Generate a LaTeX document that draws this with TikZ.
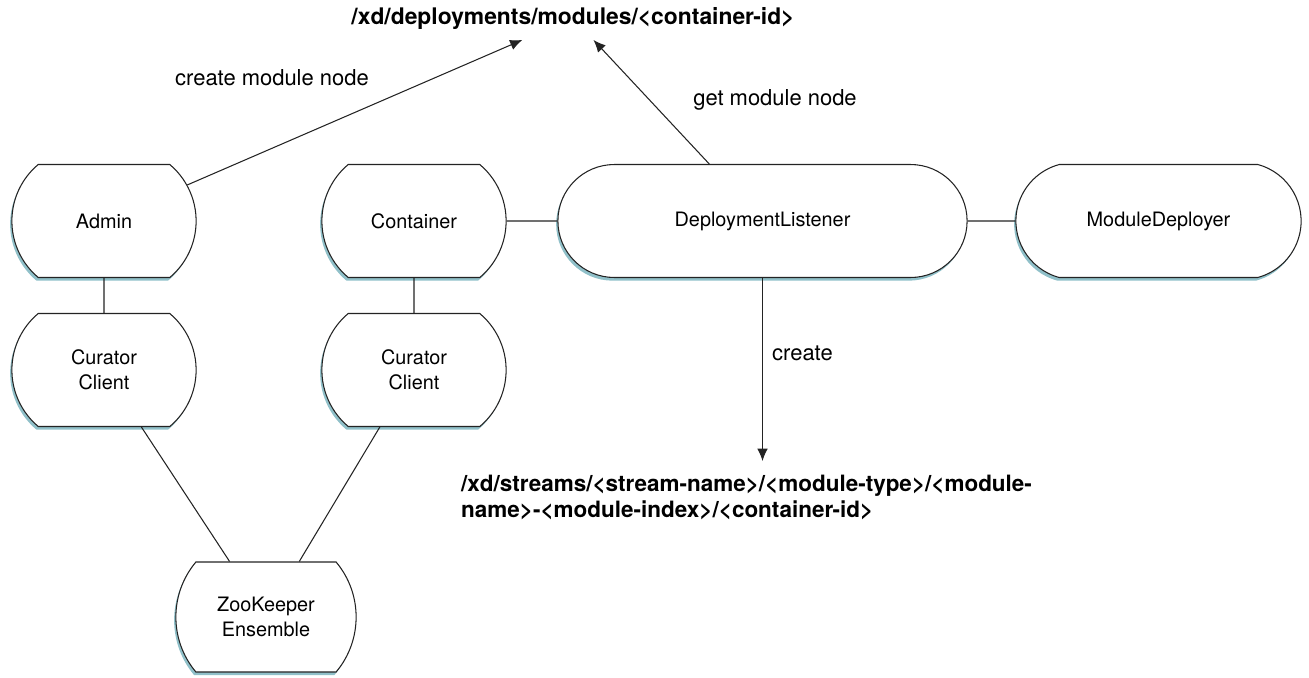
\documentclass[tikz,border=0pt]{standalone}
\usepackage{fontspec}
\setmainfont{TeX Gyre Heros}
\usepackage{tikz}
\usetikzlibrary{shapes.misc, shadows, arrows.meta, calc, positioning}

\begin{document}
\begin{tikzpicture}[x=0.02cm, y=-0.02cm,
    box/.style={rounded rectangle, rounded rectangle arc length=100,
        draw=lineGray, line width=0.6pt, fill=white,
        minimum width=3.92cm, minimum height=2.26cm, align=center,
        font=\fontsize{11.3}{14}\selectfont,
        drop shadow={shadow xshift=-1pt, shadow yshift=-1.8pt, fill=shadowTeal, opacity=0.6}},
    link/.style={draw=lineGray, line width=0.6pt},
    tip/.style={-{Latex[length=7pt,width=6pt]}},
    lbl/.style={font=\fontsize{12.5}{15}\selectfont},
    pathtext/.style={font=\bfseries\fontsize{13}{14.8}\selectfont, inner ysep=6pt}]
        % 定义颜色
        \definecolor{lineGray}{RGB}{35,35,35}     % 线条
        \definecolor{shadowTeal}{RGB}{70,150,165} % 阴影
    
        % 画布大小
        \useasboundingbox (0,0) rectangle (1309,677);
    
        % 左侧节点
        \node[box] (admin) at (104,221) {Admin};
        \node[box] (cc1) at (104,370) {Curator\\Client};
        \node[box] (container) at (414,221) {Container};
        \node[box] (cc2) at (414,370) {Curator\\Client};
        \node[box, rounded rectangle arc length=80, minimum width=3.84cm, minimum height=2.2cm] (zk) at (266,617) {ZooKeeper\\Ensemble};
    
        % 右侧节点
        \node[box, rounded rectangle arc length=180, minimum width=8.42cm] (listener) at (762.5,221) {DeploymentListener};
        \node[box, rounded rectangle arc length=150, minimum width=5.94cm] (deployer) at (1158.5,221) {ModuleDeployer};
    
        % 路径文字
        \node[pathtext] (modpath) at (573,18) {/xd/deployments/modules/<container-id>};
        \node[pathtext, anchor=north west, align=left, inner ysep=8pt,
            font=\bfseries\fontsize{12.8}{14.8}\selectfont] (streampath) at (455,461)
            {/xd/streams/<stream-name>/<module-type>/<module-\\name>-<module-index>/<container-id>};
    
        % 标注
        \node[lbl] (createlbl) at (272,78) {create module node};
        \node[lbl] (getlbl) at (775,100) {get module node};
        \node[lbl, anchor=west] (crlbl) at (766,353) {create};
    
        % 连线
        \draw[link] (admin) -- (cc1);
        \draw[link] (container) -- (cc2);
        \draw[link] (cc1) -- (zk);
        \draw[link] (cc2) -- (zk);
        \draw[link] (container) -- (listener);
        \draw[link] (listener) -- (deployer);
    
        % 箭头
        \draw[link, tip] (admin) -- (modpath);
        \draw[link, tip] (listener) -- (modpath);
        \draw[link, tip] (listener.south) -- (listener.south |- streampath.north);
    \end{tikzpicture}
\end{document}
